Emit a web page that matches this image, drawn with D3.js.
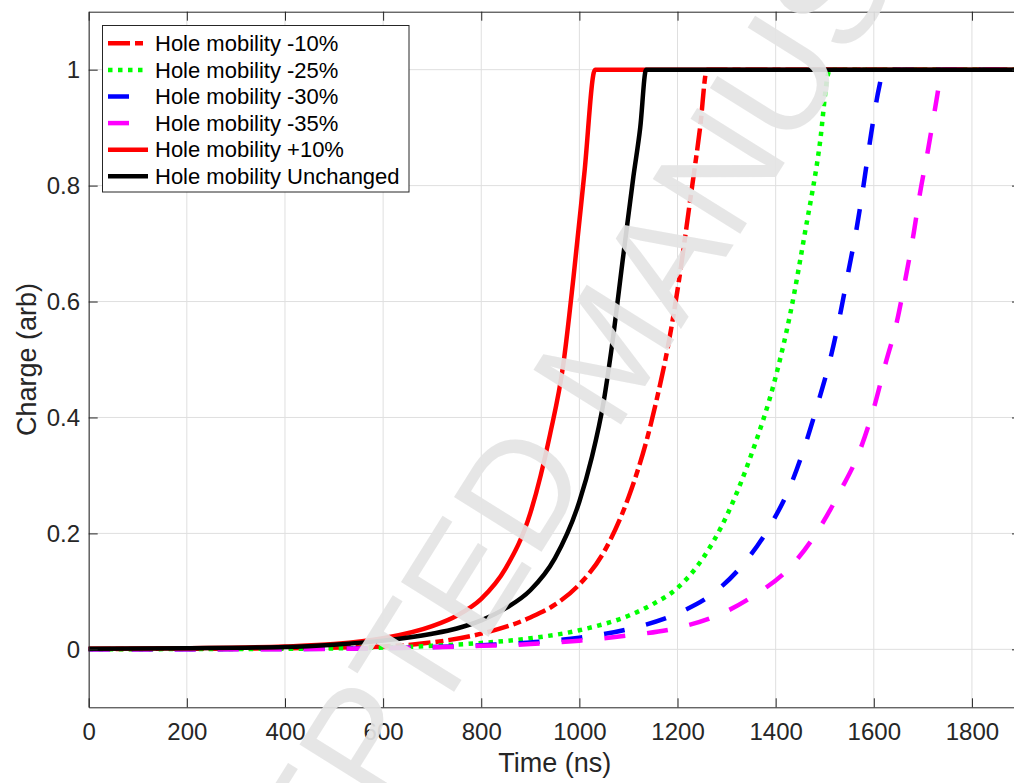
<!DOCTYPE html>
<html>
<head>
<meta charset="utf-8">
<script src="https://cdn.jsdelivr.net/npm/d3@7"></script>
<style>
  body { margin: 0; background: #fff; }
  svg { display: block; font-family: "Liberation Sans", Arial, Helvetica, sans-serif; }
</style>
</head>
<body>
<svg id="chart"></svg>
<script>
// values, time in ns, charge in arb. units
var tMinus10 = [0, 200, 400, 600, 700, 800, 900, 950, 1000, 1050, 1100, 1140, 1160, 1180, 1200, 1225, 1246, 1260, 1900];
var qMinus10 = [0.0005, 0.001, 0.002, 0.005, 0.012, 0.027, 0.055, 0.077, 0.112, 0.168, 0.262, 0.37, 0.44, 0.52, 0.62, 0.77, 0.9, 1, 1];

var tMinus25 = [0, 200, 400, 600, 700, 800, 900, 1000, 1100, 1150, 1200, 1250, 1300, 1350, 1400, 1430, 1460, 1490, 1507, 1510, 1900];
var qMinus25 = [0, 0.0005, 0.001, 0.003, 0.006, 0.011, 0.019, 0.033, 0.058, 0.078, 0.106, 0.155, 0.23, 0.335, 0.47, 0.58, 0.72, 0.872, 0.993, 1, 1];

var tMinus30 = [0, 200, 400, 600, 800, 900, 1000, 1100, 1200, 1275, 1330, 1390, 1430, 1460, 1487, 1511, 1531, 1548, 1565, 1579, 1592, 1611, 1620, 1900];
var qMinus30 = [0, 0.0003, 0.0005, 0.002, 0.007, 0.012, 0.02, 0.035, 0.062, 0.098, 0.143, 0.215, 0.282, 0.352, 0.427, 0.5, 0.576, 0.651, 0.726, 0.8, 0.875, 0.97, 1, 1];

var tMinus35 = [0, 200, 400, 600, 800, 900, 1000, 1100, 1200, 1280, 1360, 1430, 1487, 1531, 1572, 1600, 1623, 1647, 1664, 1680, 1694, 1711, 1730, 1738, 1900];
var qMinus35 = [0, 0.0002, 0.0003, 0.002, 0.006, 0.009, 0.015, 0.024, 0.037, 0.058, 0.095, 0.142, 0.206, 0.272, 0.344, 0.416, 0.49, 0.565, 0.637, 0.711, 0.786, 0.864, 0.959, 1, 1];

var tPlus10 = [0, 200, 400, 500, 600, 700, 750, 800, 850, 900, 940, 967, 988, 1010, 1032, 1900];
var qPlus10 = [0.001, 0.002, 0.005, 0.009, 0.019, 0.04, 0.058, 0.087, 0.14, 0.235, 0.37, 0.49, 0.642, 0.82, 1, 1];

var tUnchanged = [0, 200, 400, 500, 600, 700, 750, 800, 850, 900, 950, 1000, 1025, 1050, 1065, 1090, 1110, 1124, 1136, 1900];
var qUnchanged = [0.001, 0.002, 0.004, 0.008, 0.015, 0.027, 0.036, 0.05, 0.071, 0.102, 0.157, 0.255, 0.33, 0.43, 0.515, 0.683, 0.815, 0.9, 1, 1];

var seriesNames = ["Hole mobility -10%", "Hole mobility -25%", "Hole mobility -30%", "Hole mobility -35%", "Hole mobility +10%", "Hole mobility Unchanged"];
var xTicks = [0, 200, 400, 600, 800, 1000, 1200, 1400, 1600, 1800];
var yTicks = [0, 0.2, 0.4, 0.6, 0.8, 1];

var W = 1014, H = 783;
var padL = 88.7, padR = 1021, padT = 11.7, padB = 707.3;
var axisColor = "#262626";

var styles = [
    { color: "#ff0000", dash: "22,5,8,5" },
    { color: "#00ff00", dash: "4.5,5.5" },
    { color: "#0000ff", dash: "21,22" },
    { color: "#ff00ff", dash: "21,22" },
    { color: "#ff0000", dash: null },
    { color: "#000000", dash: null }
];

var series = [
    [tMinus10, qMinus10], [tMinus25, qMinus25], [tMinus30, qMinus30],
    [tMinus35, qMinus35], [tPlus10, qPlus10], [tUnchanged, qUnchanged]
].map(function(s, i) {
    return { name: seriesNames[i], style: styles[i], points: s[0].map(function(t, j) { return [t, s[1][j]]; }) };
});

var svg = d3.select("#chart").attr("width", W).attr("height", H);
svg.append("rect").attr("width", W).attr("height", H).attr("fill", "#fff");

var x = d3.scaleLinear().domain([0, 1900]).range([padL, padR]);
var y = d3.scaleLinear().domain([-0.1, 1.1]).range([padB, padT]);

// grid
var grid = svg.append("g").attr("stroke", "#dfdfdf").attr("stroke-width", 1);
grid.selectAll(".gx").data(xTicks).enter().append("line")
    .attr("x1", function(d) { return x(d); }).attr("x2", function(d) { return x(d); })
    .attr("y1", padT).attr("y2", padB);
grid.selectAll(".gy").data(yTicks).enter().append("line")
    .attr("x1", padL).attr("x2", padR)
    .attr("y1", function(d) { return y(d); }).attr("y2", function(d) { return y(d); });

// curves
var line = d3.line()
    .x(function(d) { return x(d[0]); })
    .y(function(d) { return y(d[1]); })
    .curve(d3.curveMonotoneX);

svg.append("g").selectAll("path").data(series).enter().append("path")
    .attr("d", function(d) { return line(d.points); })
    .attr("fill", "none")
    .attr("stroke", function(d) { return d.style.color; })
    .attr("stroke-width", 4.5)
    .attr("stroke-dasharray", function(d) { return d.style.dash; })
    .attr("stroke-linejoin", "miter");

// axes, ticks point inward
function styleAxis(g) {
    g.attr("font-family", null);
    g.select(".domain").attr("stroke", axisColor).attr("stroke-width", 1);
    g.selectAll(".tick line").attr("stroke", axisColor).attr("stroke-width", 1);
    g.selectAll(".tick text").attr("fill", axisColor).style("font-size", "24px");
}

svg.append("g").attr("transform", "translate(0," + padB + ")")
    .call(d3.axisBottom(x).tickValues(xTicks).tickSizeInner(-9).tickSizeOuter(0).tickPadding(16).tickFormat(d3.format("d")))
    .call(styleAxis);
svg.append("g").attr("transform", "translate(0," + padT + ")")
    .call(d3.axisTop(x).tickValues(xTicks).tickSizeInner(-9).tickSizeOuter(0).tickFormat(""))
    .call(styleAxis);
svg.append("g").attr("transform", "translate(" + padL + ",0)")
    .call(d3.axisLeft(y).tickValues(yTicks).tickSizeInner(-9).tickSizeOuter(0).tickPadding(8.7).tickFormat(d3.format("~g")))
    .call(styleAxis);
svg.append("g").attr("transform", "translate(" + padR + ",0)")
    .call(d3.axisRight(y).tickValues(yTicks).tickSizeInner(-9).tickSizeOuter(0).tickFormat(""))
    .call(styleAxis);

svg.append("text")
    .attr("x", (padL + padR) / 2).attr("y", 772)
    .attr("text-anchor", "middle").attr("fill", axisColor)
    .style("font-size", "27px").text("Time (ns)");

svg.append("text")
    .attr("transform", "translate(36," + ((padT + padB) / 2) + ") rotate(-90)")
    .attr("text-anchor", "middle").attr("fill", axisColor)
    .style("font-size", "27px").text("Charge (arb)");

// legend
var legend = svg.append("g");
legend.append("rect")
    .attr("x", 102.5).attr("y", 25.5).attr("width", 306.5).attr("height", 166.5)
    .attr("fill", "#fff").attr("stroke", axisColor).attr("stroke-width", 1);
var rows = legend.selectAll(".row").data(series).enter().append("g")
    .attr("transform", function(d, i) { return "translate(0," + (43.3 + i * 26.6) + ")"; });
rows.append("line")
    .attr("x1", 108).attr("x2", 148).attr("y1", 0).attr("y2", 0)
    .attr("stroke", function(d) { return d.style.color; })
    .attr("stroke-width", 4.5)
    .attr("stroke-dasharray", function(d) { return d.style.dash; });
rows.append("text")
    .attr("x", 155).attr("dy", "0.35em")
    .style("font-size", "22px").attr("fill", "#000")
    .text(function(d) { return d.name; });

// watermark on top of everything
svg.append("text")
    .attr("transform", "translate(604,350) rotate(-58)")
    .attr("text-anchor", "middle").attr("dy", "0.36em")
    .attr("fill", "#e4e4e4").attr("fill-opacity", 0.92)
    .style("font-size", "150px")
    .text("ACCEPTED MANUSCRIPT");
</script>
</body>
</html>
